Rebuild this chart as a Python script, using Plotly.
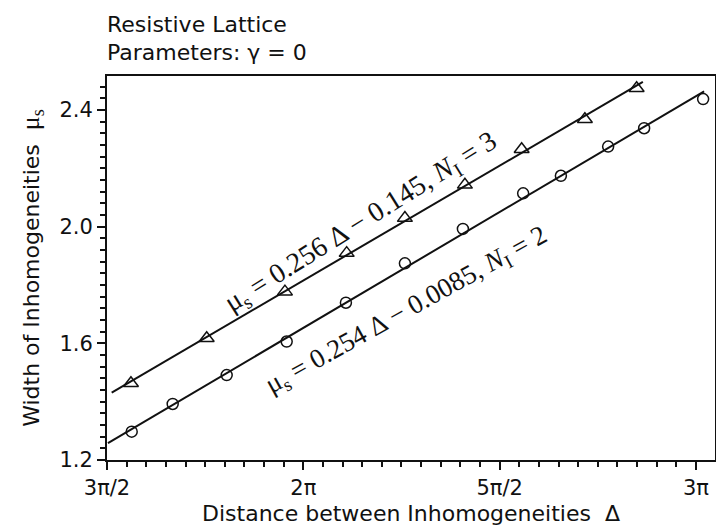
import numpy as np
import plotly.graph_objects as go

PI = np.pi

# ---- data ----
# N_I = 3 (open triangles)
tri_delta = [4.904, 5.510, 6.136, 6.630, 7.096, 7.576, 8.030, 8.536, 8.950]
tri_mu = [1.463, 1.617, 1.777, 1.909, 2.029, 2.143, 2.265, 2.368, 2.474]
# N_I = 2 (open circles)
circ_delta = [4.910, 5.238, 5.670, 6.150, 6.624, 7.096, 7.560, 8.042, 8.344, 8.722, 9.010, 9.482]
circ_mu = [1.297, 1.392, 1.491, 1.606, 1.739, 1.874, 1.992, 2.114, 2.174, 2.274, 2.337, 2.437]

x_tick_vals = [1.5 * PI, 2 * PI, 2.5 * PI, 3 * PI]
x_tick_text = ["3π/2", "2π", "5π/2", "3π"]
y_tick_vals = [1.2, 1.6, 2.0, 2.4]
y_tick_text = ["1.2", "1.6", "2.0", "2.4"]

# extents of the drawn fit lines
tri_line_span = [4.75, 9.00]
circ_line_span = [4.72, 9.49]

# ---- fits ----
tri_fit = np.polyfit(tri_delta, tri_mu, 1)
circ_fit = np.polyfit(circ_delta, circ_mu, 1)
tri_line_x = np.array(tri_line_span)
circ_line_x = np.array(circ_line_span)

INK = "#111111"
SANS = "DejaVu Sans"
SERIF = "Liberation Serif"

fig = go.Figure()
fig.add_trace(go.Scatter(x=tri_line_x, y=np.polyval(tri_fit, tri_line_x), mode="lines",
                         line=dict(color=INK, width=2), showlegend=False, hoverinfo="skip"))
fig.add_trace(go.Scatter(x=circ_line_x, y=np.polyval(circ_fit, circ_line_x), mode="lines",
                         line=dict(color=INK, width=2), showlegend=False, hoverinfo="skip"))
fig.add_trace(go.Scatter(x=tri_delta, y=tri_mu, mode="markers",
                         marker=dict(symbol="triangle-up-open", size=13, color=INK,
                                     line=dict(width=1.5, color=INK)),
                         showlegend=False))
fig.add_trace(go.Scatter(x=circ_delta, y=circ_mu, mode="markers",
                         marker=dict(symbol="circle-open", size=11, color=INK,
                                     line=dict(width=1.5, color=INK)),
                         showlegend=False))

x_minor = np.arange(1.5 * PI, 3 * PI + 1e-9, PI / 20)
y_minor = np.arange(1.2, 2.52, 0.04)

fig.update_layout(
    width=716, height=527,
    margin=dict(l=107, r=1, t=76, b=67, autoexpand=False),
    paper_bgcolor="white", plot_bgcolor="white",
    font=dict(family=SANS, color=INK, size=21),
    xaxis=dict(
        range=[1.5 * PI, 9.577], automargin=False,
        tickmode="array", tickvals=x_tick_vals, ticktext=x_tick_text,
        ticks="outside", ticklen=8, tickwidth=2, tickcolor=INK,
        showline=True, linewidth=2, linecolor=INK, mirror=True,
        showgrid=False, zeroline=False,
        tickfont=dict(family=SANS, size=21, color=INK),
        minor=dict(tickmode="array", tickvals=list(x_minor), ticks="outside",
                   ticklen=5, tickwidth=1.5, tickcolor=INK, showgrid=False),
        title=dict(text="Distance between Inhomogeneities\u00a0\u00a0Δ",
                   font=dict(family=SANS, size=22, color=INK), standoff=6),
    ),
    yaxis=dict(
        range=[1.2, 2.516], automargin=False,
        tickmode="array", tickvals=y_tick_vals, ticktext=y_tick_text,
        ticks="outside", ticklen=8, tickwidth=2, tickcolor=INK,
        showline=True, linewidth=2, linecolor=INK, mirror=True,
        showgrid=False, zeroline=False,
        tickfont=dict(family=SANS, size=21, color=INK),
        minor=dict(tickmode="array", tickvals=list(y_minor), ticks="outside",
                   ticklen=5, tickwidth=1.5, tickcolor=INK, showgrid=False),
        title=dict(text="Width of Inhomogeneities\u00a0\u00a0<span style=\"font-family:Liberation Serif;font-size:26px\">μ<sub>s</sub></span>",
                   font=dict(family=SANS, size=22, color=INK), standoff=14),
    ),
    annotations=[
        dict(text="Resistive Lattice", xref="paper", yref="paper",
             x=-0.004, y=1.134, xanchor="left", yanchor="middle", showarrow=False,
             font=dict(family=SANS, size=22, color=INK)),
        dict(text="Parameters: γ = 0", xref="paper", yref="paper",
             x=-0.004, y=1.0625, xanchor="left", yanchor="middle", showarrow=False,
             font=dict(family=SANS, size=22, color=INK)),
        dict(text="μ<sub>s</sub> = 0.256 Δ − 0.145, <i>N</i><sub>I</sub> = 3",
             xref="x", yref="y", x=6.752, y=2.0125, textangle=-32,
             xanchor="center", yanchor="middle", showarrow=False,
             font=dict(family=SERIF, size=28, color=INK)),
        dict(text="μ<sub>s</sub> = 0.254 Δ − 0.0085, <i>N</i><sub>I</sub> = 2",
             xref="x", yref="y", x=7.110, y=1.712, textangle=-29,
             xanchor="center", yanchor="middle", showarrow=False,
             font=dict(family=SERIF, size=27, color=INK)),
    ],
)

fig.write_html("out.html", config={"displayModeBar": False},
               post_script="document.body.style.margin='0';document.body.style.overflow='hidden';")
